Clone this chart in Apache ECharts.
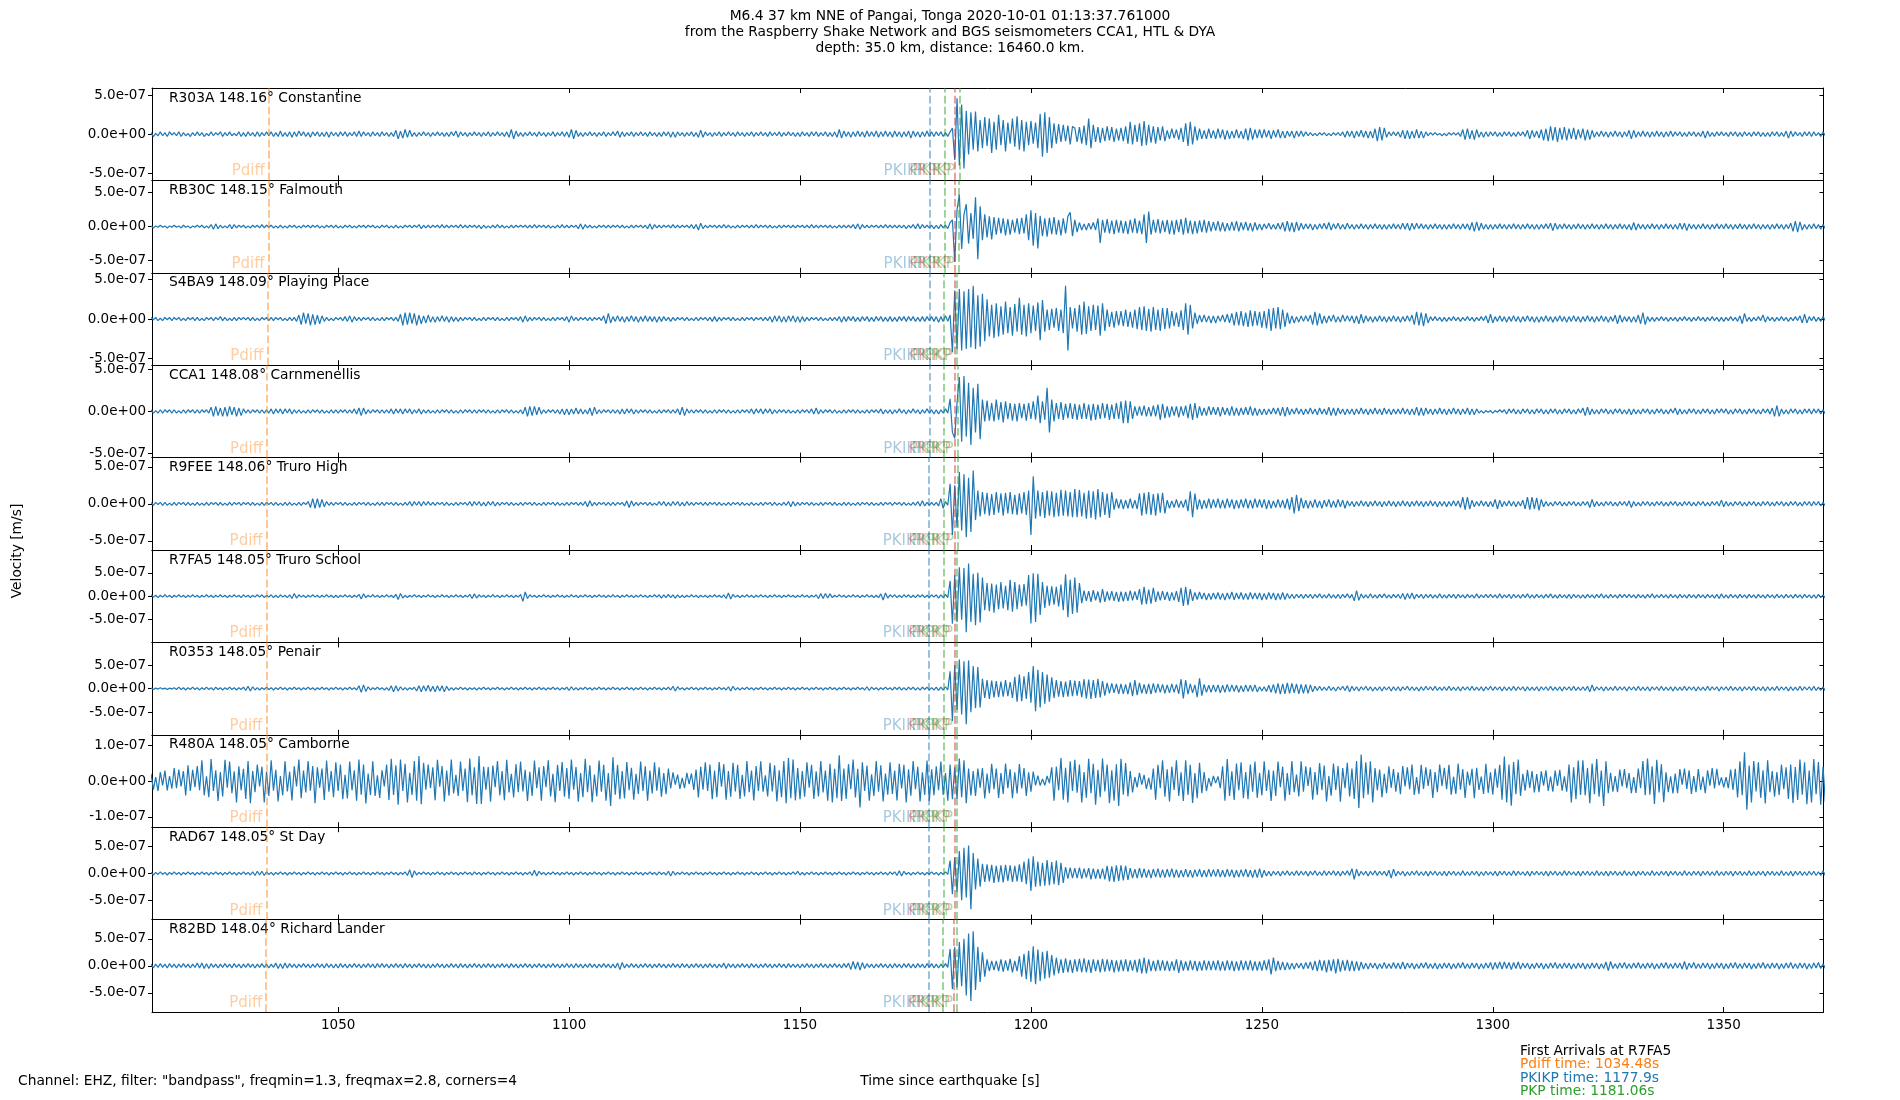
<!DOCTYPE html>
<html><head><meta charset="utf-8">
<script src="https://cdn.jsdelivr.net/npm/echarts@6/dist/echarts.min.js"></script>
<style>html,body{margin:0;padding:0;background:#fff}#c{width:1900px;height:1100px}</style>
</head><body><div id="c"></div>
<script>
// ---------------- DATA (velocity values in units of 1e-8 m/s) ----------------
const T0 = 1009.5;      // time of first sample [s]
const DT = 0.5;
const xTickValues = [1050, 1100, 1150, 1200, 1250, 1300, 1350];
const stationCodes = ['R303A','RB30C','S4BA9','CCA1','R9FEE','R7FA5','R0353','R480A','RAD67','R82BD'];
const stationDist = ['148.16','148.15','148.09','148.08','148.06','148.05','148.05','148.05','148.05','148.04'];
const stationNames = ['Constantine','Falmouth','Playing Place','Carnmenellis','Truro High','Truro School','Penair','Camborne','St Day','Richard Lander'];
const yLimits = [59.2, 68, 58.5, 55, 62.4, 98.7, 98.3, 12.9, 86.5, 85.6];
const yTickValues = [[-50,0,50],[-50,0,50],[-50,0,50],[-50,0,50],[-50,0,50],[-50,0,50],[-50,0,50],[-10,0,10],[-50,0,50],[-50,0,50]];
const pdiffTimes = [1034.99,1034.94,1034.66,1034.62,1034.53,1034.48,1034.48,1034.48,1034.48,1034.43];
const pkikpTimes = [1178.1,1178.1,1178.0,1178.0,1177.9,1177.9,1177.9,1177.9,1177.9,1177.9];
const pkpTimes = [1181.3,1181.3,1181.15,1181.1,1181.1,1181.06,1181.06,1181.06,1181.06,1181.0];
const pkikpInnerTimes = [1183.6,1183.6,1183.6,1183.5,1183.4,1183.4,1183.4,1183.4,1183.4,1183.3];
const pkp2Times = [1184.5,1184.4,1184.0,1184.1,1184.2,1184.0,1184.0,1184.0,1184.0,1184.0];
const arrivalInfo = ['First Arrivals at R7FA5','Pdiff time: 1034.48s','PKIKP time: 1177.9s','PKP time: 1181.06s'];

const trR303A = [
2,-3,1,-2,3,-2,2,-3,3,-1,2,-2,3,-3,2,-2,1,-3,2,-2,
3,-2,2,-3,1,-2,3,-2,2,-1,3,-3,2,-2,3,-2,1,-2,3,-3,
2,-3,3,-2,2,-3,3,-3,2,-2,3,-2,3,-3,2,-3,4,-3,2,-3,
3,-4,3,-3,4,-2,3,-3,2,-4,3,-2,3,-3,2,-3,3,-4,3,-2,
2,-3,3,-2,3,-3,2,-2,3,-3,4,-3,3,-2,2,-3,3,-2,2,-3,
3,-2,2,-3,2,-3,5,-6,4,-5,6,-4,5,-3,2,-3,2,-2,3,-2,
2,-3,2,-2,3,-2,2,-3,2,-3,3,-2,4,-4,3,-2,2,-3,2,-2,
3,-2,2,-3,2,-2,3,-3,2,-2,3,-2,2,-3,3,-4,6,-6,4,-3,
2,-3,2,-2,3,-2,2,-3,3,-2,2,-3,2,-2,3,-3,2,-2,3,-3,
3,-4,6,-6,5,-3,2,-3,2,-2,3,-2,2,-3,2,-2,3,-3,2,-2,
3,-2,4,-4,3,-3,2,-2,3,-3,2,-2,3,-2,2,-3,3,-2,2,-3,
2,-3,3,-2,3,-4,3,-4,3,-2,2,-3,2,-2,3,-3,2,-4,5,-4,
3,-2,2,-3,2,-2,3,-3,2,-2,3,-2,2,-3,3,-2,2,-3,2,-2,
3,-3,2,-2,3,-2,2,-3,3,-2,2,-2,3,-3,2,-2,3,-2,2,-3,
2,-3,3,-2,2,-3,3,-2,3,-3,2,-2,3,-3,2,-3,3,-4,6,-5,
4,-3,3,-4,3,-3,4,-3,3,-4,4,-3,3,-3,4,-4,3,-3,4,-3,
3,-4,4,-3,3,-4,3,-3,4,-5,4,-3,3,-4,3,-3,4,-3,3,-3,
3,-2,3,-3,2,-3,3,8,-33,46,-40,38,-44,30,-26,28,-20,29,-22,18,
-18,22,-15,20,-24,16,-20,25,-14,18,-22,15,-12,20,-16,23,-20,18,-22,16,
-14,17,-12,15,-18,26,-29,28,-24,22,-18,14,-12,13,-10,12,-9,11,-13,10,
8,-10,9,-12,11,-14,20,-18,12,-10,9,-11,8,-9,10,-8,9,-10,7,-8,
8,-9,10,-12,16,-13,12,-10,14,-15,17,-14,12,-11,10,-12,9,-8,10,-9,
5,-6,7,-5,6,-7,8,-10,14,-15,16,-13,10,-8,7,-6,5,-6,7,-5,
5,-6,7,-5,6,-7,5,-6,4,-5,6,-5,4,-6,7,-8,8,-7,6,-5,
6,-5,6,-4,5,-6,5,-4,6,-5,4,-5,4,-3,4,-5,4,-3,4,-3,
3,-2,2,-2,1,-2,2,-1,2,-2,1,-2,2,-1,2,-2,3,-4,4,-3,
4,-5,4,-3,5,-4,4,-5,4,-5,7,-9,9,-8,8,-4,3,-2,3,-2,
3,-4,5,-6,5,-6,4,-5,6,-5,4,-5,3,-2,2,-1,2,-1,1,-2,
1,-2,2,-1,2,-1,2,-3,6,-7,7,-6,5,-7,6,-4,3,-4,3,-3,
3,-2,3,-3,2,-3,3,-2,3,-3,2,-3,3,-2,3,-3,5,-6,5,-4,
4,-5,6,-8,7,-9,10,-8,9,-10,8,-7,9,-8,7,-6,8,-7,6,-5,
7,-8,6,-7,5,-4,3,-3,4,-3,3,-4,3,-3,4,-3,3,-4,3,-3,
5,-6,5,-4,3,-3,4,-3,3,-4,3,-3,4,-3,3,-4,3,-3,4,-3,
3,-2,3,-3,2,-3,3,-2,3,-3,2,-3,4,-5,4,-3,2,-3,3,-2,
3,-2,2,-3,3,-2,3,-3,2,-3,3,-2,2,-3,3,-2,3,-3,2,-3,
2,-3,3,-2,3,-3,2,-3,4,-5,4,-3,3,-2,2,-3,3,-2,3,-3,
3,-2,2,-3,3,-2];

const trRB30C = [
1,-2,1,-1,2,-1,1,-2,1,-1,2,-1,1,-2,2,-1,1,-2,1,-1,
2,-1,2,-2,1,-2,3,-4,4,-3,2,-2,1,-2,3,-3,3,-2,2,-1,
2,-2,1,-2,2,-1,2,-2,3,-2,2,-1,2,-2,1,-2,2,-2,1,-2,
2,-1,2,-2,1,-2,2,-1,2,-2,2,-1,2,-2,1,-2,2,-1,2,-2,
2,-2,1,-2,2,-1,2,-2,1,-2,2,-1,2,-2,2,-1,2,-2,1,-2,
2,-1,2,-2,1,-2,2,-2,1,-2,2,-1,2,-2,2,-1,3,-3,2,-2,
2,-2,2,-1,2,-2,3,-2,2,-2,2,-1,2,-2,3,-2,2,-2,2,-1,
2,-2,2,-3,2,-2,1,-2,2,-2,3,-2,2,-2,1,-2,2,-2,2,-1,
2,-1,2,-2,2,-2,3,-2,2,-1,2,-2,2,-2,1,-2,2,-2,3,-2,
2,-2,2,-1,2,-3,4,-4,3,-2,2,-2,1,-2,2,-1,2,-2,2,-2,
2,-1,2,-2,2,-2,1,-2,2,-2,2,-1,2,-2,2,-3,4,-4,3,-2,
2,-2,2,-1,2,-2,3,-2,2,-2,2,-1,2,-2,3,-3,3,-5,5,-3,
2,-2,2,-1,2,-2,2,-2,3,-2,2,-2,1,-2,2,-2,2,-1,2,-2,
2,-2,3,-2,2,-1,2,-2,2,-2,1,-2,2,-2,2,-1,2,-2,2,-2,
2,-1,2,-2,2,-2,3,-2,2,-2,2,-1,2,-2,2,-2,1,-2,2,-2,
2,-2,2,-2,3,-3,4,-4,3,-2,2,-2,2,-1,2,-2,2,-2,3,-2,
2,-2,2,-2,2,-2,2,-3,2,-2,3,-3,4,-3,3,-2,2,-2,2,-3,
2,-3,3,-2,2,-3,6,10,-52,25,47,-33,18,33,-25,20,-18,43,-48,30,
-20,18,-16,15,-19,14,-12,13,-10,12,-13,11,-12,10,-9,12,-11,13,-10,18,
-20,24,-28,20,-32,16,-14,12,-15,13,-11,14,-12,10,-13,12,-10,15,21,-14,
10,-8,6,-5,4,-5,5,-4,6,-5,12,-24,10,-9,11,-10,9,-11,10,-9,
9,-10,8,-11,10,-9,12,-10,9,-11,18,-24,22,-12,10,-9,11,-10,9,-8,
10,-11,9,-12,10,-8,11,-12,13,-10,9,-11,8,-10,9,-8,10,-9,8,-7,
7,-6,8,-7,6,-7,5,-6,7,-6,8,-7,6,-5,7,-6,5,-7,6,-5,
4,-5,4,-3,5,-4,3,-4,5,-4,6,-7,8,-7,6,-8,7,-6,5,-4,
4,-3,4,-5,3,-4,4,-3,5,-4,6,-5,4,-3,5,-4,3,-4,5,-3,
3,-4,3,-3,4,-3,3,-4,3,-3,4,-3,3,-4,3,-4,3,-3,4,-3,
3,-4,5,-4,5,-6,5,-4,5,-3,4,-3,3,-4,3,-3,4,-3,3,-4,
3,-4,3,-3,4,-3,3,-4,4,-3,4,-5,6,-7,7,-6,5,-4,3,-4,
3,-4,3,-3,4,-3,3,-4,3,-3,4,-3,3,-4,3,-3,4,-3,3,-4,
3,-4,3,-3,4,-3,5,-6,5,-4,3,-3,4,-3,3,-4,3,-3,4,-3,
3,-4,3,-3,4,-3,3,-4,3,-3,4,-3,3,-4,3,-3,4,-3,3,-4,
3,-5,6,-5,4,-3,3,-4,3,-3,4,-3,3,-4,3,-3,4,-3,3,-4,
3,-4,5,-4,5,-6,4,-3,3,-4,3,-3,4,-3,3,-4,3,-3,4,-3,
3,-3,4,-3,3,-4,3,-3,4,-3,3,-4,3,-3,4,-3,3,-4,3,-3,
3,-4,3,-3,4,-3,3,-4,3,-3,5,-7,8,-8,7,-5,3,-4,3,-3,
4,-3,3,-4,3,-3];

const trS4BA9 = [
2,-1,2,-2,1,-2,2,-1,2,-2,2,-1,2,-2,1,-2,2,-1,2,-2,
2,-2,1,-2,2,-1,2,-2,2,-1,3,-2,2,-2,1,-2,2,-2,2,-1,
2,-1,2,-2,2,-2,1,-2,2,-1,2,-2,2,-2,2,-1,2,-2,1,-2,
2,-2,2,-3,5,-7,8,-6,7,-8,6,-7,5,-6,4,-3,2,-2,1,-2,
2,-1,2,-2,3,-3,4,-4,3,-2,2,-2,2,-1,2,-2,2,-2,1,-2,
2,-2,2,-1,2,-2,2,-3,6,-8,8,-7,8,-6,7,-8,5,-6,4,-5,
5,-4,3,-4,3,-3,4,-3,3,-4,3,-3,2,-3,2,-2,2,-1,2,-2,
2,-2,1,-2,2,-2,2,-1,2,-2,2,-2,1,-2,2,-2,2,-1,2,-2,
3,-4,4,-3,2,-2,2,-1,2,-2,2,-2,1,-2,2,-2,2,-1,2,-2,
3,-4,4,-2,2,-2,2,-1,2,-2,2,-2,2,-1,2,-2,4,-6,7,-5,
3,-3,4,-3,3,-4,3,-3,4,-3,3,-4,3,-3,4,-3,3,-3,3,-4,
3,-3,3,-2,2,-3,2,-2,2,-1,2,-2,2,-2,1,-2,2,-2,2,-1,
2,-2,2,-3,3,-3,2,-2,2,-1,2,-2,2,-2,1,-2,2,-2,2,-1,
2,-2,2,-1,2,-2,2,-2,3,-4,4,-3,4,-4,3,-4,4,-3,4,-4,
3,-4,3,-3,2,-2,2,-1,2,-2,2,-2,1,-2,2,-2,2,-2,3,-4,
3,-3,3,-2,3,-3,2,-3,3,-2,3,-3,2,-3,3,-2,3,-3,2,-3,
3,-3,2,-3,3,-2,3,-3,3,-2,3,-3,2,-3,3,-3,3,-2,3,-3,
3,-4,3,-3,4,-3,5,-42,36,-38,38,-40,35,-38,38,-36,42,-38,30,-35,
32,-28,25,-22,18,-24,20,-22,16,-20,22,-18,15,-21,19,-16,27,-20,18,-22,
20,-18,17,-15,21,-27,24,-16,12,-14,13,-11,14,-15,12,-18,42,-40,15,-12,
14,-16,18,-20,22,-19,16,-15,18,-14,17,-21,20,-15,12,-10,9,-11,10,-8,
10,-9,12,-10,9,-11,12,-13,15,-14,16,-15,13,-16,15,-14,12,-15,14,-13,
14,-12,10,-9,8,-10,11,-14,20,-20,18,-12,8,-6,5,-4,5,-4,4,-5,
4,-5,4,-3,5,-4,6,-5,7,-8,9,-8,10,-9,8,-10,11,-9,10,-8,
9,-11,10,-12,13,-15,14,-12,15,-13,12,-10,8,-6,4,-5,3,-4,4,-3,
4,-3,5,-7,9,-8,7,-6,4,-5,4,-3,5,-4,3,-4,5,-3,4,-3,
4,-5,4,-6,6,-5,4,-3,3,-4,3,-3,4,-3,3,-4,3,-3,4,-3,
3,-4,3,-3,4,-3,5,-7,9,-8,8,-9,7,-5,3,-2,3,-2,2,-3,
2,-3,2,-2,3,-2,2,-3,2,-2,3,-2,2,-3,2,-2,3,-2,4,-5,
6,-5,3,-3,4,-3,3,-4,3,-3,4,-3,3,-4,3,-3,4,-3,3,-4,
3,-4,3,-3,4,-3,3,-4,3,-3,4,-3,3,-4,3,-3,4,-3,3,-4,
3,-3,4,-3,3,-4,3,-3,4,-3,3,-4,3,-3,5,-6,5,-4,3,-3,
3,-4,3,-4,5,-6,8,-7,3,-3,2,-3,2,-2,3,-2,2,-3,2,-2,
2,-3,2,-2,3,-2,2,-3,2,-2,3,-2,2,-3,2,-2,3,-2,2,-3,
2,-3,2,-2,3,-2,2,-3,4,-6,7,-3,2,-3,2,-2,3,-2,5,-4,
3,-2,2,-3,2,-2,3,-2,2,-3,2,-2,3,-2,4,-5,6,-5,3,-2,
3,-3,2,-3,3,-2];

const trCCA1 = [
2,-2,1,-2,2,-2,2,-1,2,-2,2,-2,1,-2,2,-2,2,-1,2,-2,
2,-2,2,-1,2,-2,5,-6,6,-5,4,-6,5,-6,6,-4,5,-6,4,-5,
3,-2,2,-2,2,-1,2,-2,2,-2,2,-2,3,-3,3,-2,3,-3,3,-2,
3,-3,2,-2,2,-2,1,-2,2,-2,2,-1,2,-2,2,-2,1,-2,2,-2,
2,-2,2,-1,2,-2,2,-2,3,-3,4,-5,4,-3,2,-2,2,-1,2,-2,
2,-2,2,-2,3,-3,3,-2,3,-3,3,-2,3,-3,2,-2,3,-3,2,-2,
2,-2,1,-2,2,-2,2,-1,2,-2,2,-2,1,-2,2,-2,2,-1,2,-2,
2,-2,2,-1,2,-2,2,-2,1,-2,2,-2,2,-1,2,-2,2,-2,1,-2,
2,-3,5,-6,6,-5,6,-4,5,-3,2,-2,2,-1,2,-2,2,-3,3,-4,
3,-4,3,-3,4,-3,3,-3,2,-3,4,-5,5,-3,2,-2,2,-1,2,-2,
2,-2,2,-3,3,-3,3,-2,3,-3,2,-2,2,-1,2,-2,2,-2,1,-2,
2,-2,2,-1,2,-2,2,-2,3,-4,5,-5,3,-2,2,-2,2,-1,2,-2,
2,-2,1,-2,2,-2,2,-1,2,-2,2,-2,1,-2,2,-2,2,-1,2,-2,
3,-3,3,-2,3,-3,3,-2,3,-3,2,-2,2,-1,2,-2,2,-2,1,-2,
2,-2,2,-1,2,-2,3,-3,4,-3,2,-2,2,-1,2,-2,2,-2,1,-2,
2,-2,2,-1,2,-2,2,-2,1,-2,2,-2,2,-1,2,-2,3,-3,2,-2,
2,-3,2,-2,3,-2,2,-3,2,-2,3,-2,2,-3,2,-2,3,-2,2,-3,
2,-3,2,-2,3,-2,15,-25,-32,10,41,-36,42,-30,34,-40,28,-25,33,-33,
14,-12,13,-11,10,-12,14,-10,11,-13,12,-9,10,-11,9,-12,10,-8,9,-11,
10,-9,12,-10,19,-14,12,-10,28,-25,14,-12,10,-9,11,-10,9,-8,10,-9,
9,-10,8,-9,10,-9,8,-11,9,-10,8,-9,10,-8,9,-10,8,-9,10,-9,
12,-14,13,-14,12,-9,6,-5,6,-5,7,-6,5,-6,7,-6,8,-10,9,-8,
6,-7,6,-5,6,-7,6,-5,7,-8,9,-10,10,-8,6,-5,4,-5,6,-4,
5,-4,5,-6,5,-4,4,-5,6,-5,4,-5,4,-4,5,-4,6,-5,4,-5,
3,-4,3,-4,3,-3,4,-3,4,-5,5,-6,5,-4,3,-3,4,-3,3,-4,
3,-3,4,-3,3,-4,4,-3,3,-4,5,-5,4,-5,4,-3,3,-4,3,-3,
3,-4,3,-3,4,-3,3,-4,3,-3,4,-3,3,-4,4,-3,3,-4,3,-3,
3,-3,4,-3,3,-4,3,-4,5,-5,4,-5,4,-3,3,-4,3,-3,4,-3,
3,-4,3,-3,4,-3,3,-4,3,-3,4,-4,3,-4,3,-2,1,-2,1,-1,
1,-2,1,-1,2,-1,2,-3,3,-2,3,-3,2,-3,3,-2,3,-3,2,-3,
3,-2,3,-3,2,-3,3,-2,3,-3,2,-3,3,-2,3,-3,2,-3,3,-2,
4,-5,5,-4,3,-3,2,-3,3,-2,3,-3,2,-3,3,-2,3,-3,2,-3,
3,-4,3,-3,2,-3,3,-2,3,-3,2,-3,3,-2,3,-3,2,-3,3,-2,
4,-4,3,-3,2,-3,3,-2,3,-3,2,-3,3,-2,3,-3,2,-3,3,-2,
3,-2,3,-3,2,-3,3,-2,3,-3,2,-3,3,-2,3,-3,2,-3,3,-2,
3,-3,4,-6,7,-6,3,-3,2,-3,3,-2,3,-3,2,-3,3,-2,3,-3,
3,-2,3,-3,2,-3];

const trR9FEE = [
2,-2,2,-1,2,-2,2,-2,1,-2,2,-2,2,-1,2,-2,2,-2,1,-2,
2,-2,1,-2,2,-2,2,-1,2,-2,2,-2,1,-2,2,-2,2,-1,2,-2,
2,-1,2,-2,2,-2,1,-2,2,-2,2,-1,2,-2,2,-2,1,-2,2,-2,
2,-2,1,-2,2,-2,2,-1,3,-5,7,-6,7,-5,6,-4,3,-2,2,-2,
2,-1,2,-2,2,-2,1,-2,2,-2,2,-1,2,-2,2,-2,1,-2,2,-2,
2,-2,2,-1,2,-2,2,-2,1,-2,2,-2,3,-3,3,-2,3,-3,3,-2,
3,-2,2,-2,2,-1,2,-2,2,-2,1,-2,2,-2,2,-1,2,-2,3,-3,
3,-2,3,-3,2,-3,3,-2,3,-3,2,-2,2,-1,2,-2,2,-2,1,-2,
2,-2,2,-1,2,-2,2,-2,1,-2,2,-2,2,-1,2,-2,2,-2,1,-2,
2,-2,2,-1,2,-2,2,-2,3,-4,4,-3,2,-2,2,-1,2,-2,2,-2,
2,-2,2,-1,2,-3,4,-5,4,-3,2,-2,2,-1,2,-2,2,-2,1,-2,
3,-2,3,-3,2,-3,3,-2,3,-3,2,-3,3,-2,2,-2,2,-1,2,-2,
2,-2,2,-1,2,-2,2,-2,1,-2,2,-2,2,-1,2,-2,2,-2,1,-2,
2,-2,1,-2,2,-2,2,-1,2,-2,2,-2,1,-2,2,-2,3,-4,3,-3,
2,-2,2,-1,2,-2,2,-2,1,-2,2,-2,2,-1,2,-2,2,-2,1,-2,
2,-2,2,-2,1,-2,2,-2,2,-1,2,-2,2,-2,1,-2,2,-2,2,-1,
2,-2,2,-1,2,-2,2,-2,1,-2,2,-2,3,-3,4,-3,2,-2,2,-2,
2,-3,7,-6,3,-2,27,-42,25,-32,43,-36,40,-45,35,-38,45,-22,18,-17,
16,-14,15,-16,13,-15,16,-12,14,-16,15,-13,16,-14,12,-15,14,-13,16,-15,
18,-42,37,-20,18,-17,16,-19,18,-16,17,-18,15,-17,19,-16,18,-17,16,-18,
20,-18,19,-17,15,-20,18,-19,17,-21,20,-18,16,-15,14,-19,16,-8,7,-6,
6,-7,5,-6,7,-6,5,-7,14,-16,15,-14,16,-15,13,-16,14,-12,15,-13,
5,-6,4,-5,6,-5,4,-5,6,-10,17,-18,14,-8,6,-7,5,-6,7,-6,
6,-5,7,-6,5,-6,7,-5,6,-7,5,-6,6,-5,7,-6,5,-6,7,-5,
6,-5,6,-7,5,-6,4,-5,6,-5,5,-6,7,-8,9,-13,12,-10,8,-6,
5,-6,4,-5,6,-5,4,-6,5,-4,6,-5,4,-5,6,-4,5,-6,4,-3,
3,-4,3,-3,4,-3,3,-4,3,-3,4,-3,3,-4,3,-3,4,-3,3,-4,
3,-3,4,-3,3,-4,3,-3,4,-3,3,-4,3,-3,4,-3,3,-4,3,-3,
3,-4,3,-3,4,-3,4,-5,9,-8,9,-7,5,-4,3,-3,4,-3,3,-4,
3,-4,6,-7,5,-4,3,-3,4,-3,3,-4,3,-3,5,-7,9,-8,9,-7,
8,-9,6,-4,3,-3,2,-3,3,-2,3,-3,2,-3,3,-2,3,-3,2,-3,
3,-2,3,-5,6,-4,3,-3,2,-3,3,-2,3,-3,2,-3,3,-2,3,-3,
4,-5,3,-3,2,-3,3,-2,3,-3,2,-3,3,-2,3,-3,2,-3,3,-2,
3,-3,2,-3,3,-2,3,-3,2,-3,3,-2,3,-3,2,-3,3,-2,3,-3,
5,-4,3,-3,2,-3,3,-2,3,-3,2,-3,3,-2,3,-3,2,-3,3,-2,
3,-3,2,-3,3,-2,3,-3,2,-3,3,-2,3,-3,2,-3,3,-2,3,-3,
3,-2,3,-3,2,-3];

const trR7FA5 = [
3,-2,2,-3,2,-2,3,-2,2,-3,2,-2,3,-2,2,-3,2,-2,3,-2,
2,-3,2,-2,3,-2,2,-3,2,-2,3,-2,2,-3,2,-2,3,-2,2,-3,
3,-2,2,-3,2,-2,3,-2,3,-3,2,-2,3,-3,2,-3,3,-2,2,-3,
3,-5,6,-4,3,-2,2,-3,2,-2,3,-2,2,-3,2,-2,3,-2,2,-3,
2,-3,2,-2,3,-2,2,-3,2,-2,4,-6,5,-3,2,-2,3,-2,2,-3,
2,-2,3,-2,2,-3,4,-7,6,-4,2,-3,2,-2,3,-2,2,-3,2,-2,
3,-2,2,-3,2,-2,3,-2,2,-3,2,-2,3,-2,2,-3,2,-2,4,-5,
5,-4,3,-2,2,-3,2,-2,3,-2,2,-3,2,-2,3,-2,2,-3,2,-2,
4,-11,9,-5,3,-2,2,-3,2,-2,3,-2,2,-3,2,-2,3,-2,2,-3,
2,-2,3,-2,2,-3,2,-2,3,-2,2,-3,2,-2,3,-2,2,-3,2,-2,
3,-2,2,-3,2,-2,3,-2,2,-3,2,-2,3,-2,2,-3,2,-2,3,-2,
3,-4,3,-3,4,-3,3,-4,3,-3,2,-3,2,-2,3,-2,2,-3,2,-2,
2,-3,2,-2,3,-2,2,-3,3,-5,7,-6,4,-2,2,-3,2,-2,3,-2,
2,-3,2,-2,3,-2,2,-3,2,-2,3,-2,2,-3,2,-2,3,-2,2,-3,
2,-2,3,-2,2,-3,2,-2,3,-5,6,-5,6,-4,5,-3,2,-2,3,-2,
2,-3,2,-2,3,-2,2,-3,2,-2,3,-2,2,-3,2,-3,5,-8,7,-4,
3,-2,3,-3,2,-3,3,-2,3,-3,2,-3,3,-2,3,-3,2,-3,3,-2,
3,-4,3,-3,4,-3,33,-59,45,-55,62,-50,60,-77,70,-55,48,-62,50,-56,
40,-30,28,-32,27,-35,25,-28,30,-26,22,-30,35,-33,30,-28,25,-22,26,-20,
45,-58,49,-55,48,-40,30,-25,22,-20,21,-18,20,-22,25,-30,47,-45,35,-38,
40,-35,28,-15,12,-10,11,-12,13,-9,10,-14,15,-12,10,-9,11,-10,9,-12,
10,-11,9,-10,12,-9,10,-8,15,-18,20,-17,14,-16,18,-12,10,-9,11,-8,
9,-10,8,-9,11,-12,18,-21,20,-19,15,-10,8,-7,9,-6,7,-8,6,-7,
7,-6,8,-7,6,-8,7,-6,9,-8,7,-6,8,-7,6,-7,8,-6,7,-6,
7,-8,6,-7,8,-6,7,-8,6,-7,8,-7,6,-5,4,-5,4,-3,4,-5,
4,-3,4,-5,4,-3,5,-4,3,-4,5,-4,3,-4,4,-5,4,-3,5,-4,
4,-10,12,-9,5,-4,3,-4,5,-4,3,-4,4,-3,5,-4,3,-4,4,-3,
4,-5,6,-7,6,-5,7,-6,4,-3,4,-5,4,-3,4,-4,3,-4,5,-4,
3,-4,4,-3,4,-5,4,-3,3,-4,4,-3,3,-4,5,-4,3,-3,4,-3,
4,-3,3,-4,5,-4,3,-3,4,-5,4,-3,3,-4,4,-3,5,-4,3,-4,
4,-3,3,-4,4,-3,5,-4,3,-4,4,-3,3,-4,4,-5,4,-3,3,-4,
3,-4,4,-3,3,-4,4,-3,5,-4,3,-4,4,-3,3,-4,4,-3,4,-3,
4,-3,3,-4,4,-3,3,-4,4,-3,5,-4,3,-3,4,-3,3,-4,4,-3,
3,-4,4,-3,3,-4,4,-3,3,-4,4,-3,3,-4,4,-3,3,-4,4,-5,
5,-4,3,-4,4,-3,3,-4,4,-3,3,-4,4,-3,3,-4,4,-3,3,-4,
4,-3,3,-4,4,-3,3,-4,4,-3,3,-4,4,-3,3,-4,4,-3,3,-4,
3,-4,4,-3,3,-4];

const trR0353 = [
1,-2,1,-1,2,-1,1,-2,1,-1,2,-2,3,-2,2,-3,2,-2,3,-2,
2,-3,2,-2,3,-2,2,-3,3,-2,2,-3,2,-2,3,-2,2,-3,2,-2,
3,-4,5,-5,4,-3,2,-3,2,-2,3,-2,2,-3,2,-2,3,-2,2,-3,
2,-2,3,-2,2,-3,2,-2,3,-2,2,-3,2,-2,3,-2,2,-3,2,-2,
3,-2,2,-3,2,-2,3,-2,2,-3,6,-8,8,-6,4,-3,2,-2,3,-2,
2,-3,2,-4,6,-7,6,-5,4,-3,2,-3,2,-2,3,-5,6,-7,6,-5,
7,-6,5,-7,6,-5,6,-7,5,-4,2,-3,2,-2,3,-2,2,-3,2,-2,
2,-3,2,-2,3,-2,2,-3,2,-2,3,-2,2,-3,2,-2,3,-2,2,-3,
2,-2,3,-2,2,-3,2,-2,3,-2,2,-3,2,-2,3,-2,2,-3,2,-2,
3,-4,4,-3,2,-3,2,-2,3,-2,2,-3,2,-2,3,-2,2,-3,2,-2,
3,-2,2,-3,2,-2,3,-2,2,-3,2,-2,3,-2,2,-3,2,-2,3,-2,
2,-3,2,-2,3,-3,5,-5,4,-2,2,-3,2,-2,3,-2,2,-3,2,-2,
3,-2,2,-3,2,-2,3,-2,2,-3,4,-5,5,-3,2,-3,2,-2,3,-2,
2,-3,2,-2,3,-2,2,-3,2,-2,3,-2,2,-3,2,-2,3,-2,2,-3,
2,-2,3,-2,2,-3,2,-2,3,-2,2,-3,2,-2,3,-2,2,-3,2,-2,
3,-2,2,-3,2,-2,3,-2,2,-3,4,-4,3,-2,2,-3,2,-2,3,-2,
2,-3,3,-2,3,-3,2,-3,3,-2,3,-3,2,-3,3,-2,3,-3,2,-3,
3,-4,3,-3,4,-3,37,-69,50,-45,62,-55,58,-76,60,-50,48,-42,46,-40,
21,-20,18,-22,17,-19,16,-18,15,-17,18,-16,14,-20,25,-28,30,-27,26,-22,
35,-30,48,-48,40,-40,35,-32,30,-28,24,-20,18,-17,16,-18,15,-17,18,-16,
17,-15,16,-18,20,-21,19,-22,18,-20,21,-19,16,-15,12,-10,11,-9,10,-11,
10,-11,9,-12,13,-16,18,-14,12,-10,9,-11,10,-12,11,-9,10,-8,9,-10,
8,-9,10,-8,9,-11,20,-21,18,-12,10,-9,8,-18,22,-15,9,-8,7,-8,
8,-7,8,-9,7,-8,9,-7,8,-6,7,-8,6,-7,8,-6,7,-6,8,-7,
4,-5,4,-6,7,-8,9,-10,11,-12,10,-11,12,-10,11,-9,10,-11,9,-10,
9,-10,8,-7,5,-4,5,-4,3,-4,5,-4,3,-5,4,-3,5,-4,6,-7,
5,-4,4,-5,4,-3,5,-4,4,-5,3,-4,4,-5,4,-3,4,-5,4,-4,
4,-5,4,-3,5,-4,4,-4,3,-5,4,-4,5,-3,4,-4,5,-4,3,-4,
4,-4,5,-4,3,-4,4,-5,4,-3,4,-4,5,-4,3,-4,4,-5,4,-3,
5,-4,4,-3,4,-5,4,-4,3,-4,5,-4,4,-3,4,-5,4,-4,3,-4,
4,-5,4,-3,4,-4,5,-4,3,-4,4,-5,4,-3,4,-4,5,-4,3,-4,
4,-4,5,-7,8,-5,4,-3,4,-5,4,-4,3,-4,5,-4,4,-3,4,-5,
4,-3,4,-4,5,-4,3,-4,4,-5,4,-3,4,-4,5,-4,3,-4,4,-5,
4,-4,3,-4,5,-4,4,-3,4,-5,4,-4,3,-4,5,-4,4,-3,4,-5,
4,-3,4,-4,5,-4,3,-4,4,-5,4,-3,4,-4,5,-4,3,-4,4,-5,
4,-4,3,-4,5,-4,4,-3,4,-5,4,-4,3,-4,5,-4,4,-3,4,-4,
5,-4,3,-4,4,-5];

const trR480A = [
2.0,-2.4,1.1,-2.8,2.5,-1.2,2.9,-2.6,1.4,-2.1,3.6,-2.0,3.2,-1.5,2.8,-4.0,4.4,-2.8,3.1,-1.7,
4.2,-2.6,5.8,-4.0,1.3,-4.5,6.1,-2.8,3.0,-5.6,2.5,-4.3,5.9,-1.9,5.4,-3.4,2.7,-6.0,4.1,-2.6,
3.4,-5.0,5.6,-6.2,2.8,-3.1,4.6,-1.5,4.0,-6.0,2.6,-4.2,5.8,-2.7,3.1,-5.7,1.4,-4.0,5.5,-2.9,
2.6,-5.4,4.1,-1.5,6.0,-4.8,2.9,-3.2,5.6,-2.7,4.2,-6.2,3.8,-1.9,3.5,-5.3,5.7,-3.0,2.8,-4.5,
5.2,-2.8,4.6,-5.1,1.7,-4.9,5.4,-2.6,3.0,-5.5,6.0,-3.8,4.6,-6.3,2.1,-3.9,5.5,-4.2,1.6,-4.7,
3.0,-1.5,4.6,-5.3,6.2,-3.9,4.4,-6.6,6.0,-2.8,4.8,-6.0,2.3,-3.9,5.6,-5.5,7.0,-6.5,5.1,-2.4,
4.6,-2.0,3.8,-5.4,5.9,-1.6,4.2,-5.7,2.9,-4.1,6.0,-3.5,1.7,-4.2,5.4,-2.8,3.5,-5.9,6.3,-4.0,
3.8,-6.4,7.0,-6.4,4.0,-2.4,3.9,-5.8,4.3,-1.7,5.6,-4.0,2.8,-5.4,5.9,-3.2,2.0,-4.6,4.7,-3.1,
5.4,-2.9,3.1,-5.6,2.6,-4.2,5.7,-2.0,3.8,-5.5,4.2,-1.7,5.8,-4.3,2.0,-5.9,4.5,-2.8,5.3,-4.4,
3.6,-5.0,6.0,-2.4,3.9,-5.8,2.2,-4.5,6.2,-3.1,4.4,-5.9,1.8,-4.3,5.7,-3.0,4.5,-5.5,2.2,-7.0,
6.6,-3.8,4.5,-5.1,2.8,-4.9,5.3,-2.6,3.7,-5.2,2.0,-3.6,5.4,-2.8,4.1,-5.5,2.9,-3.5,5.2,-2.7,
3.8,-4.4,2.2,-3.7,3.5,-2.1,2.4,-1.0,1.8,-2.2,0.9,-2.0,2.3,-0.9,2.1,-2.5,3.2,-4.6,4.0,-2.4,
5.2,-2.8,4.6,-5.1,2.9,-4.5,5.3,-1.6,4.7,-5.2,2.8,-4.4,5.1,-2.9,4.5,-5.0,1.7,-4.3,5.6,-3.1,
2.9,-5.4,4.2,-2.8,5.5,-3.0,1.6,-4.3,5.1,-2.9,4.4,-5.7,3.0,-4.5,5.6,-6.2,6.4,-4.8,6.0,-5.4,
3.6,-5.1,2.8,-4.4,5.2,-1.9,4.5,-5.0,2.7,-4.3,5.6,-3.2,2.9,-5.5,4.8,-6.0,3.4,-4.8,7.2,-5.6,
3.5,-5.0,4.7,-2.3,6.0,-4.6,3.4,-7.4,5.2,-2.8,4.3,-5.5,1.9,-4.2,5.6,-3.0,4.4,-5.7,2.1,-3.8,
5.2,-3.6,2.9,-5.4,4.8,-2.1,4.5,-6.0,3.3,-4.1,5.6,-2.3,4.0,-5.7,2.4,-3.9,5.7,-5.6,3.3,-4.0,
4.1,-2.6,5.4,-3.9,2.2,-5.5,4.6,-5.1,3.8,-5.0,6.3,-4.5,5.8,-6.2,3.5,-4.0,2.8,-4.2,3.5,-1.9,
3.6,-4.9,2.1,-3.4,4.8,-2.3,3.5,-4.7,2.2,-3.6,4.9,-2.0,3.3,-4.8,2.4,-3.5,4.7,-2.1,3.6,-4.2,
2.4,-3.0,2.6,-1.2,1.5,-1.3,0.6,-1.2,1.4,-0.6,3.8,-5.5,4.0,-2.6,6.4,-5.2,3.7,-6.0,5.5,-2.8,
5.9,-3.3,4.6,-6.0,2.5,-4.7,6.2,-3.4,4.8,-6.6,3.1,-4.5,6.3,-2.9,4.6,-6.2,3.0,-5.5,4.7,-7.0,
6.2,-3.8,5.0,-4.3,2.8,-3.2,1.1,-1.8,2.3,-1.0,1.7,-2.2,0.9,-2.4,3.5,-5.2,4.5,-2.0,5.8,-4.4,
3.3,-5.7,4.0,-2.5,5.8,-4.2,2.4,-5.6,5.8,-3.9,4.5,-6.1,2.2,-4.8,5.1,-3.4,2.5,-2.8,0.8,-1.5,
1.4,-0.6,1.3,-2.0,4.1,-5.5,6.1,-4.2,2.7,-5.3,4.9,-2.6,5.2,-4.8,2.5,-5.1,4.6,-3.0,5.4,-4.7,
2.3,-4.0,5.5,-2.8,3.1,-5.6,2.9,-4.2,5.4,-1.7,4.0,-5.5,2.2,-3.9,5.6,-3.1,1.8,-4.3,5.5,-3.0,
4.1,-1.4,3.8,-5.2,2.5,-3.9,5.0,-2.6,4.3,-5.7,1.4,-4.1,4.9,-2.5,4.2,-5.8,3.6,-2.0,5.1,-4.3,
3.5,-5.0,5.6,-7.5,7.4,-4.8,5.2,-3.8,5.5,-6.0,3.6,-2.6,3.2,-4.5,2.0,-3.4,4.1,-1.9,3.3,-3.0,
2.4,-3.7,4.2,-1.5,3.8,-2.3,4.6,-3.9,1.1,-3.6,4.5,-2.2,3.8,-1.4,3.3,-4.7,2.5,-3.1,4.6,-1.4,
3.7,-2.3,4.5,-3.8,1.2,-3.6,4.9,-2.4,3.3,-4.7,2.6,-1.2,3.4,-4.8,3.7,-2.5,1.2,-3.6,4.8,-3.3,
2.4,-3.8,3.5,-1.9,4.5,-5.2,6.8,-6.0,4.6,-6.9,5.3,-3.7,6.0,-4.2,2.0,-2.7,3.1,-1.9,2.8,-3.2,
1.9,-3.1,2.7,-1.3,3.0,-2.8,1.2,-3.0,2.9,-1.4,3.1,-2.7,1.3,-3.0,4.6,-6.0,3.8,-5.1,5.7,-3.9,
5.8,-4.0,3.6,-6.2,4.9,-3.7,6.1,-4.4,2.9,-7.0,5.5,-3.4,2.3,-3.0,1.4,-3.1,3.2,-1.5,3.3,-2.0,
2.2,-3.4,1.1,-3.3,3.5,-2.0,5.6,-4.0,6.3,-3.8,4.1,-6.4,5.9,-3.2,4.7,-5.9,2.4,-3.1,1.3,-3.5,
2.1,-3.4,3.3,-1.0,3.5,-2.2,3.0,-3.6,1.4,-3.1,3.3,-2.5,1.2,-3.4,3.0,-1.3,3.6,-2.1,3.4,-1.2,
1.0,-1.8,1.1,-2.0,3.2,-2.5,3.4,-4.6,5.5,-4.0,8.0,-8.0,4.3,-6.0,5.6,-2.9,5.2,-4.7,3.0,-6.3,
5.8,-3.1,2.8,-4.4,2.5,-3.9,4.6,-2.3,3.8,-5.0,4.6,-6.1,3.9,-5.3,6.0,-3.8,5.2,-6.5,2.9,-6.0,
6.1,-3.7,5.3,-6.6,4.0,-5.9];

const trRAD67 = [
2,-3,2,-2,3,-2,2,-3,2,-2,3,-2,2,-3,2,-2,3,-2,2,-3,
2,-2,3,-2,2,-3,2,-2,3,-2,2,-3,2,-2,3,-2,2,-3,2,-2,
3,-2,2,-3,3,-4,4,-3,4,-4,3,-2,2,-3,2,-2,3,-2,2,-3,
2,-2,3,-2,2,-3,2,-2,3,-2,2,-3,2,-2,3,-2,2,-3,2,-2,
3,-2,2,-3,2,-2,3,-2,2,-3,2,-2,3,-2,2,-3,2,-2,3,-2,
2,-3,2,-2,3,-2,2,-3,2,-2,3,-4,7,-8,5,-3,2,-2,3,-2,
2,-3,2,-2,3,-2,2,-3,2,-2,3,-2,2,-3,2,-2,3,-2,2,-3,
3,-2,2,-3,2,-2,3,-2,2,-3,2,-2,3,-2,2,-3,2,-2,3,-2,
2,-3,2,-2,3,-4,6,-5,4,-2,2,-3,2,-2,3,-2,2,-3,2,-2,
3,-2,2,-3,2,-2,3,-2,2,-3,2,-2,3,-2,2,-3,2,-2,3,-2,
2,-3,2,-2,3,-2,2,-3,2,-2,3,-2,2,-3,2,-2,3,-2,2,-3,
3,-2,2,-3,4,-5,4,-3,2,-2,3,-2,2,-3,2,-2,3,-2,2,-3,
2,-2,3,-2,2,-3,2,-2,3,-2,2,-3,2,-2,3,-2,2,-3,2,-2,
3,-2,2,-3,2,-2,3,-2,2,-3,2,-2,3,-2,2,-3,2,-2,3,-2,
4,-3,2,-3,2,-2,3,-2,2,-3,2,-2,3,-2,2,-3,2,-2,3,-2,
2,-3,2,-2,3,-2,2,-3,2,-2,3,-2,2,-3,2,-2,3,-2,2,-3,
3,-2,3,-4,5,-5,4,-2,2,-3,2,-2,3,-2,2,-3,2,-2,3,-2,
2,-3,2,-2,3,-2,24,-39,30,-35,42,-50,48,-45,52,-67,38,-30,28,-25,
18,-16,17,-15,16,-18,14,-16,15,-17,16,-14,15,-16,14,-15,17,-16,22,-20,
28,-33,32,-25,22,-24,20,-23,25,-22,21,-20,24,-22,20,-18,12,-10,11,-9,
10,-9,11,-10,9,-8,10,-11,9,-10,8,-10,9,-11,14,-15,13,-16,15,-14,
15,-13,14,-12,10,-9,8,-9,10,-8,9,-8,7,-9,8,-7,9,-8,7,-8,
8,-7,9,-8,7,-8,6,-7,8,-7,6,-8,7,-6,8,-7,6,-7,8,-6,
7,-6,8,-7,6,-7,8,-6,7,-8,6,-7,7,-6,8,-7,6,-8,7,-8,
9,-8,6,-5,4,-5,4,-3,4,-5,4,-3,5,-4,3,-4,5,-4,4,-3,
4,-5,4,-3,5,-4,3,-4,5,-4,4,-3,5,-4,4,-5,4,-3,5,-4,
9,-11,8,-5,4,-3,4,-5,4,-3,5,-4,4,-3,4,-5,6,-9,8,-5,
4,-3,4,-5,3,-4,4,-3,5,-4,3,-4,4,-5,4,-3,4,-4,3,-4,
4,-5,4,-3,4,-4,3,-4,5,-4,3,-4,4,-3,4,-5,3,-4,4,-3,
3,-4,4,-5,4,-3,4,-4,3,-4,5,-4,4,-3,3,-4,4,-5,4,-3,
4,-3,3,-4,4,-5,4,-3,4,-4,3,-4,5,-4,4,-3,3,-4,4,-5,
4,-3,4,-4,3,-4,5,-4,3,-4,4,-5,4,-3,4,-4,3,-4,5,-4,
3,-4,4,-5,4,-3,4,-4,3,-4,5,-4,3,-4,4,-3,4,-5,4,-3,
4,-4,3,-4,5,-4,3,-4,4,-3,4,-5,4,-3,4,-4,3,-4,5,-4,
3,-4,4,-3,4,-5,4,-3,4,-4,3,-4,5,-4,3,-4,4,-3,4,-5,
4,-3,4,-4,3,-4,5,-4,3,-4,4,-5,4,-3,4,-4,3,-4,4,-3,
4,-4,3,-4,5,-4];

const trR82BD = [
3,-4,3,-3,4,-3,3,-4,4,-3,3,-4,3,-3,4,-3,3,-4,3,-3,
5,-4,5,-5,4,-5,4,-3,3,-4,3,-3,4,-3,3,-4,4,-3,3,-4,
3,-3,4,-3,3,-4,3,-3,4,-3,3,-4,3,-3,5,-5,4,-5,5,-4,
4,-3,3,-4,3,-3,4,-3,3,-4,3,-3,4,-3,3,-4,4,-3,3,-4,
3,-4,4,-3,3,-4,3,-3,4,-3,3,-4,3,-3,4,-3,3,-4,4,-3,
4,-3,3,-4,3,-3,4,-3,3,-4,4,-3,3,-4,3,-3,4,-3,3,-4,
3,-4,3,-3,4,-3,3,-4,3,-3,4,-3,3,-4,4,-3,3,-4,3,-3,
4,-3,3,-4,3,-3,4,-3,3,-4,3,-3,4,-3,3,-4,4,-3,3,-4,
3,-3,4,-3,3,-4,3,-3,4,-3,3,-4,3,-3,4,-3,3,-4,3,-3,
4,-3,3,-4,4,-3,3,-4,3,-3,4,-3,3,-4,3,-3,4,-3,3,-4,
3,-4,5,-7,6,-4,3,-3,4,-3,3,-4,3,-3,4,-3,3,-4,3,-3,
4,-3,3,-4,3,-3,4,-3,3,-4,4,-3,3,-4,3,-3,4,-3,3,-4,
3,-3,4,-3,3,-4,3,-3,5,-5,4,-3,3,-4,3,-3,4,-3,3,-4,
4,-3,3,-4,3,-3,4,-3,3,-4,3,-3,4,-3,3,-4,4,-3,3,-3,
3,-4,3,-3,4,-3,3,-4,3,-3,4,-3,3,-4,3,-3,4,-3,3,-4,
4,-3,5,-7,8,-6,7,-8,6,-5,4,-3,3,-4,3,-3,4,-3,3,-4,
3,-4,4,-3,3,-4,4,-3,4,-4,3,-4,4,-3,3,-4,4,-3,4,-4,
3,-4,3,-3,4,-3,31,-43,35,-40,44,-38,50,-55,60,-65,64,-45,35,-30,
25,-20,12,-10,9,-8,9,-10,12,-11,10,-9,13,-12,9,-10,18,-20,22,-25,
28,-30,36,-34,30,-28,26,-24,28,-22,20,-18,15,-14,12,-13,14,-12,11,-13,
12,-11,13,-12,14,-12,11,-13,12,-10,11,-12,13,-11,12,-10,11,-12,10,-11,
11,-10,12,-11,10,-9,11,-12,13,-14,15,-14,12,-10,9,-10,11,-9,10,-9,
9,-10,8,-9,12,-13,10,-9,8,-9,10,-8,9,-10,8,-9,10,-8,9,-8,
9,-8,10,-9,8,-9,10,-8,9,-10,8,-9,10,-8,9,-8,10,-9,8,-9,
8,-9,10,-8,12,-16,15,-10,9,-8,7,-8,6,-7,5,-6,5,-4,5,-6,
6,-5,7,-8,9,-10,11,-9,10,-12,11,-10,12,-14,13,-11,10,-9,11,-10,
9,-10,8,-9,7,-6,5,-6,5,-4,5,-6,4,-5,6,-5,4,-5,6,-5,
5,-6,7,-6,5,-4,5,-6,4,-5,5,-4,6,-5,4,-5,5,-6,4,-5,
5,-4,5,-6,4,-5,5,-4,6,-5,4,-5,5,-4,5,-6,4,-5,5,-4,
6,-7,6,-5,7,-6,7,-5,6,-7,6,-5,7,-6,5,-4,5,-6,4,-5,
5,-4,5,-6,4,-5,5,-4,6,-5,4,-5,5,-4,5,-6,4,-5,5,-4,
5,-6,4,-5,5,-4,5,-6,4,-5,7,-9,8,-5,4,-5,5,-4,6,-5,
4,-5,5,-4,6,-5,4,-5,5,-4,5,-6,4,-5,5,-4,6,-5,4,-5,
5,-4,5,-6,8,-7,5,-4,6,-5,4,-5,5,-4,5,-6,4,-5,5,-4,
5,-6,4,-5,5,-4,6,-5,4,-5,5,-4,5,-6,4,-5,5,-4,6,-5,
4,-5,5,-4,5,-6,4,-5,5,-4,6,-5,4,-5,5,-4,5,-6,4,-5,
5,-4,6,-5,4,-5];

const traces = [trR303A, trRB30C, trS4BA9, trCCA1, trR9FEE, trR7FA5, trR0353, trR480A, trRAD67, trR82BD];

// ---------------- LAYOUT / STYLE ----------------
const FONT = 'DejaVu Sans';
const X_MIN = 1009.7, X_MAX = 1371.6;
const PLOT_LEFT = 152, PLOT_TOP = 88, PLOT_W = 1671.5, PANEL_H = 92.4;
const phases = [
  {name: 'Pdiff', times: pdiffTimes, color: 'rgba(255,127,14,0.5)'},
  {name: 'PKIKP', times: pkikpTimes, color: 'rgba(31,119,180,0.5)'},
  {name: 'PKP', times: pkpTimes, color: 'rgba(44,160,44,0.5)'},
  {name: 'PKiKP', times: pkikpInnerTimes, color: 'rgba(214,39,40,0.5)'},
  {name: 'PKP', times: pkp2Times, color: 'rgba(44,160,44,0.5)'}
];

function sci(v) {
  if (v === 0) return '0.0e+00';
  const r = v * 1e-8;
  let e = Math.floor(Math.log10(Math.abs(r)) + 1e-9);
  let m = (r / Math.pow(10, e)).toFixed(1);
  const s = e < 0 ? '-' : '+';
  return m + 'e' + s + String(Math.abs(e)).padStart(2, '0');
}

const grids = [], xAxes = [], yAxes = [], series = [], graphics = [];
const axisLineStyle = {show: true, onZero: false, lineStyle: {color: '#000', width: 1}};
for (let k = 0; k < 10; k++) {
  const top = PLOT_TOP + PANEL_H * k;
  grids.push({left: PLOT_LEFT, top: top, width: PLOT_W, height: PANEL_H});
  xAxes.push({
    type: 'value', gridIndex: k, position: 'bottom', min: X_MIN, max: X_MAX,
    axisLine: axisLineStyle,
    axisTick: {show: true, inside: true, length: 5, customValues: xTickValues, lineStyle: {color: '#000'}},
    axisLabel: {show: k === 9, customValues: xTickValues, formatter: v => String(v), margin: 6, color: '#000', fontSize: 13.5, fontFamily: FONT},
    splitLine: {show: false}
  });
  xAxes.push({
    type: 'value', gridIndex: k, position: 'top', min: X_MIN, max: X_MAX,
    axisLine: axisLineStyle,
    axisTick: {show: true, inside: true, length: 5, customValues: xTickValues, lineStyle: {color: '#000'}},
    axisLabel: {show: false},
    splitLine: {show: false}
  });
  yAxes.push({
    type: 'value', gridIndex: k, position: 'left', min: -yLimits[k], max: yLimits[k],
    axisLine: axisLineStyle,
    axisTick: {show: true, inside: false, length: 4, customValues: yTickValues[k], lineStyle: {color: '#000'}},
    axisLabel: {show: true, customValues: yTickValues[k], formatter: sci, margin: 6, color: '#000', fontSize: 13.5, fontFamily: FONT},
    splitLine: {show: false}
  });
  yAxes.push({
    type: 'value', gridIndex: k, position: 'right', min: -yLimits[k], max: yLimits[k],
    axisLine: axisLineStyle,
    axisTick: {show: true, inside: true, length: 4, customValues: yTickValues[k], lineStyle: {color: '#000'}},
    axisLabel: {show: false},
    splitLine: {show: false}
  });
  const tr = traces[k];
  series.push({
    type: 'line', xAxisIndex: 2 * k, yAxisIndex: 2 * k,
    data: tr.map((v, i) => [T0 + i * DT, v]),
    showSymbol: false, symbol: 'none', animation: false, clip: true,
    lineStyle: {color: '#1f77b4', width: 1.2}, z: 2,
    markLine: {
      silent: true, symbol: ['none', 'none'], animation: false, label: {show: false},
      data: phases.map(p => ({xAxis: p.times[k], lineStyle: {color: p.color, type: [7.7, 3.3], width: 1.8}}))
    }
  });
  series.push({
    type: 'scatter', xAxisIndex: 2 * k, yAxisIndex: 2 * k, symbolSize: 0, silent: true,
    animation: false, clip: false, z: 4,
    data: phases.map(p => ({value: [p.times[k], -yLimits[k]], label: {formatter: p.name, color: p.color}})),
    label: {show: true, position: 'left', distance: 4, offset: [0, -8.8], fontSize: 15, fontFamily: FONT}
  });
  graphics.push({
    type: 'text', left: 169, top: top + 3, silent: true,
    style: {text: stationCodes[k] + ' ' + stationDist[k] + '\u00b0 ' + stationNames[k], fontSize: 13.8, fontFamily: FONT, fill: '#000'}
  });
}

graphics.push({type: 'text', x: 950, y: 9, silent: true,
  style: {text: 'M6.4 37 km NNE of Pangai, Tonga 2020-10-01 01:13:37.761000\nfrom the Raspberry Shake Network and BGS seismometers CCA1, HTL & DYA\ndepth: 35.0 km, distance: 16460.0 km.',
    textAlign: 'center', textVerticalAlign: 'top', lineHeight: 15.7, fontSize: 13.8, fontFamily: FONT, fill: '#000'}});
graphics.push({type: 'text', x: 17, y: 551, rotation: Math.PI / 2, silent: true,
  style: {text: 'Velocity [m/s]', textAlign: 'center', textVerticalAlign: 'middle', fontSize: 13.8, fontFamily: FONT, fill: '#000'}});
graphics.push({type: 'text', x: 18, y: 1081, silent: true,
  style: {text: 'Channel: EHZ, filter: "bandpass", freqmin=1.3, freqmax=2.8, corners=4', textAlign: 'left', textVerticalAlign: 'middle', fontSize: 13.8, fontFamily: FONT, fill: '#000'}});
graphics.push({type: 'text', x: 950, y: 1081, silent: true,
  style: {text: 'Time since earthquake [s]', textAlign: 'center', textVerticalAlign: 'middle', fontSize: 13.8, fontFamily: FONT, fill: '#000'}});
const infoColors = ['#000000', '#ff7f0e', '#1f77b4', '#2ca02c'];
arrivalInfo.forEach((t, i) => {
  graphics.push({type: 'text', x: 1520, y: 1051 + i * 13.6, silent: true,
    style: {text: t, textAlign: 'left', textVerticalAlign: 'middle', fontSize: 13.8, fontFamily: FONT, fill: infoColors[i]}});
});

const chart = echarts.init(document.getElementById('c'), null, {renderer: 'canvas', width: 1900, height: 1100});
chart.setOption({
  backgroundColor: '#ffffff',
  animation: false,
  grid: grids, xAxis: xAxes, yAxis: yAxes, series: series,
  graphic: graphics
});
</script>
</body></html>
